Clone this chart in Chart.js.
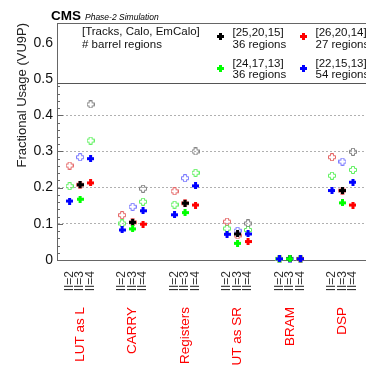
<!DOCTYPE html>
<html>
<head>
<meta charset="utf-8">
<script src="https://cdn.jsdelivr.net/npm/chart.js@4.4.0/dist/chart.umd.min.js"></script>
<style>
  html, body { margin: 0; padding: 0; background: #fff; overflow: hidden; }
  #wrap { position: relative; width: 366px; height: 365px; overflow: hidden; }
  #chart { position: absolute; left: 0; top: 0; }
</style>
</head>
<body>
<div id="wrap"><canvas id="chart" width="380" height="385"></canvas></div>
<script>
const FONT = "'Liberation Sans', Arial, Helvetica, sans-serif";

// categories and tick labels
const categories = ["LUT as L", "CARRY", "Registers", "LUT as SR", "BRAM", "DSP"];
const iiLabels = ["II=2", "II=3", "II=4"];
const yTickValues = [0, 0.1, 0.2, 0.3, 0.4, 0.5, 0.6];

// filled markers (one value per category)
const blackFilledII3 = [0.208, 0.104, 0.157, 0.072, 0.003, 0.192];
const redFilledII4   = [0.213, 0.099, 0.152, 0.051, 0.003, 0.152];
const greenFilledII3 = [0.168, 0.086, 0.131, 0.046, 0.003, 0.158];
const blueFilledII2  = [0.163, 0.083, 0.125, 0.071, 0.003, 0.192];
const blueFilledII4  = [0.280, 0.136, 0.205, 0.072, 0.003, 0.215];

// open markers
const redOpenII2   = [0.261, 0.124, 0.190, 0.106, 0.003, 0.284];
const redOpenII3   = [0.208, 0.104, 0.157, 0.068, 0.003, 0.192];
const greenOpenII2 = [0.204, 0.101, 0.153, 0.087, 0.003, 0.233];
const greenOpenII4 = [0.330, 0.161, 0.241, 0.083, 0.003, 0.249];
const blueOpenII3  = [0.284, 0.147, 0.226, 0.081, 0.003, 0.272];
const blackOpenII4 = [0.430, 0.197, 0.300, 0.101, 0.003, 0.299];

// legend
const legendHeader = ["[Tracks, Calo, EmCalo]", "# barrel regions"];
const legendConfigs = ["[25,20,15]", "[26,20,14]", "[24,17,13]", "[22,15,13]"];
const legendRegions = ["36 regions", "27 regions", "36 regions", "54 regions"];

const COLORS = { black: "#000000", red: "#ff0000", green: "#00ff00", blue: "#0000ff" };
const OPEN_COLORS = { black: "#808080", red: "#e46464", green: "#5ef05e", blue: "#7878ff" };

// x position of category i, II index j
const xPos = (i, j) => 5 * i + j + 1;
const toPoints = (values, j) => values.map((v, i) => ({ x: xPos(i, j), y: v }));

// fat cross markers as small canvases
const crossImage = (color, filled) => {
  const c = document.createElement("canvas");
  const g = c.getContext("2d");
  if (filled) {
    c.width = 7; c.height = 7;
    g.fillStyle = color;
    g.fillRect(2, 0, 3, 7);
    g.fillRect(0, 2, 7, 3);
  } else {
    c.width = 8; c.height = 8;
    g.strokeStyle = color;
    g.lineWidth = 1;
    const a = 2.5, b = 5.5, lo = 0.5, hi = 7.5;
    const pts = [[a,lo],[b,lo],[b,a],[hi,a],[hi,b],[b,b],[b,hi],[a,hi],[a,b],[lo,b],[lo,a],[a,a]];
    g.beginPath();
    pts.forEach((p, k) => k ? g.lineTo(p[0], p[1]) : g.moveTo(p[0], p[1]));
    g.closePath();
    g.stroke();
  }
  return c;
};

const makeSet = (label, pts, colorKey, filled) => ({
  label: label,
  data: pts,
  pointStyle: crossImage(filled ? COLORS[colorKey] : OPEN_COLORS[colorKey], filled),
  pointRadius: 4,
  showLine: false,
  clip: false
});

// dataset 0 is drawn on top
const datasets = [
  makeSet("green filled", toPoints(greenFilledII3, 1), "green", true),
  makeSet("blue filled II2", toPoints(blueFilledII2, 0), "blue", true),
  makeSet("blue filled II4", toPoints(blueFilledII4, 2), "blue", true),
  makeSet("black filled", toPoints(blackFilledII3, 1), "black", true),
  makeSet("red filled", toPoints(redFilledII4, 2), "red", true),
  makeSet("black open", toPoints(blackOpenII4, 2), "black", false),
  makeSet("blue open", toPoints(blueOpenII3, 1), "blue", false),
  makeSet("green open II2", toPoints(greenOpenII2, 0), "green", false),
  makeSet("green open II4", toPoints(greenOpenII4, 2), "green", false),
  makeSet("red open II2", toPoints(redOpenII2, 0), "red", false),
  makeSet("red open II3", toPoints(redOpenII3, 1), "red", false)
];

const legendMarkers = ["black", "red", "green", "blue"].map(k => crossImage(COLORS[k], true));

const decorations = {
  id: "decorations",
  beforeDraw(chart) {
    const ctx = chart.ctx;
    ctx.save();
    ctx.fillStyle = "#fff";
    ctx.fillRect(0, 0, chart.width, chart.height);
    ctx.restore();
  },
  afterDatasetsDraw(chart) {
    const { ctx, chartArea: a, scales: { y } } = chart;
    ctx.save();
    ctx.strokeStyle = "#666";
    ctx.lineWidth = 1;
    ctx.beginPath();
    // minor / major ticks on the y axis, inside the frame
    for (let k = 1; k <= 24; k++) {
      const py = Math.round(y.getPixelForValue(k * 0.02)) + 0.5;
      const len = k % 5 === 0 ? 6 : 3;
      ctx.moveTo(a.left, py);
      ctx.lineTo(a.left + len, py);
    }
    // top frame
    ctx.moveTo(a.left, a.top + 0.5);
    ctx.lineTo(a.right, a.top + 0.5);
    ctx.stroke();

    // legend box bottom line
    ctx.strokeStyle = "#555";
    ctx.beginPath();
    ctx.moveTo(a.left, a.top + 60.5);
    ctx.lineTo(a.right, a.top + 60.5);
    ctx.stroke();

    // title
    ctx.fillStyle = "#000";
    ctx.textBaseline = "alphabetic";
    ctx.font = "bold 13.5px " + FONT;
    ctx.fillText("CMS", 51, 19.5);
    ctx.font = "italic 8.5px " + FONT;
    ctx.fillText("Phase-2 Simulation", 85, 19.5);

    // legend
    ctx.font = "11.5px " + FONT;
    ctx.textBaseline = "middle";
    ctx.fillStyle = "#111";
    ctx.fillText(legendHeader[0], 82, 31.5);
    ctx.fillText(legendHeader[1], 82, 45);
    const cols = [220.5, 303.5];
    const rows = [[32.5, 45, 36.5], [63.5, 75, 68.5]];
    for (let k = 0; k < 4; k++) {
      const cx = cols[k % 2];
      const r = rows[Math.floor(k / 2)];
      const img = legendMarkers[k];
      ctx.drawImage(img, Math.round(cx - img.width / 2), Math.round(r[2] - img.height / 2));
      ctx.fillText(legendConfigs[k], cx + 12, r[0]);
      ctx.fillText(legendRegions[k], cx + 12, r[1]);
    }
    ctx.restore();
  }
};

const xMin = -0.2, xMax = 30.1;

new Chart(document.getElementById("chart").getContext("2d"), {
  type: "scatter",
  data: { datasets: datasets },
  options: {
    responsive: false,
    animation: false,
    events: [],
    layout: { padding: { top: 23, left: 0, right: 0, bottom: 0 } },
    plugins: { legend: { display: false }, tooltip: { enabled: false } },
    scales: {
      x: {
        type: "linear",
        position: "bottom",
        min: xMin,
        max: xMax,
        afterBuildTicks: s => { s.ticks = categories.flatMap((_, i) => iiLabels.map((_, j) => ({ value: xPos(i, j) }))); },
        afterFit: s => { s.height = 45; },
        ticks: {
          autoSkip: false,
          minRotation: 90,
          maxRotation: 90,
          padding: 11,
          color: "#333",
          font: { family: FONT, size: 12 },
          callback: (v, idx) => iiLabels[idx % 3]
        },
        grid: { display: false, drawTicks: false },
        border: { display: true, color: "#666", width: 1 }
      },
      xCat: {
        type: "linear",
        position: "bottom",
        min: xMin,
        max: xMax,
        afterBuildTicks: s => { s.ticks = categories.map((_, i) => ({ value: xPos(i, 1) })); },
        afterFit: s => { s.height = 80; },
        ticks: {
          autoSkip: false,
          minRotation: 90,
          maxRotation: 90,
          padding: 2,
          color: "#ff0000",
          font: { family: FONT, size: 13.5 },
          callback: (v, idx) => categories[idx]
        },
        grid: { display: false, drawTicks: false },
        border: { display: false }
      },
      y: {
        type: "linear",
        position: "left",
        min: 0,
        max: 0.655,
        afterBuildTicks: s => { s.ticks = yTickValues.map(v => ({ value: v })); },
        afterFit: s => { s.width = 57; },
        ticks: {
          padding: 4,
          color: "#111",
          font: { family: FONT, size: 14 },
          callback: v => (v === 0 ? "0" : v.toFixed(1))
        },
        grid: {
          drawTicks: false,
          lineWidth: 1,
          color: c => (c.tick && c.tick.value > 0.05 && c.tick.value < 0.45 ? "#b0b0b0" : "rgba(0,0,0,0)")
        },
        border: { display: true, color: "#666", width: 1, dash: [2, 2] },
        title: {
          display: true,
          text: "Fractional Usage (VU9P)",
          align: "end",
          color: "#222",
          font: { family: FONT, size: 13 },
          padding: { top: 15, bottom: 0 }
        }
      }
    }
  },
  plugins: [decorations]
});
</script>
</body>
</html>
